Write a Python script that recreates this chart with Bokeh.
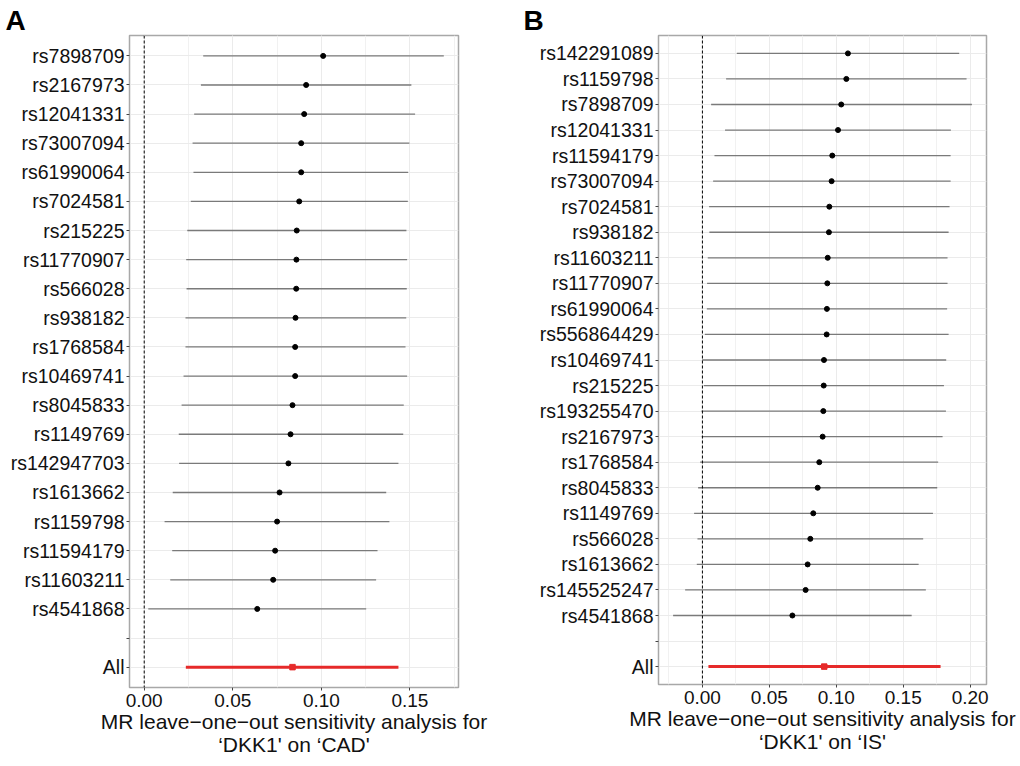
from bokeh.plotting import figure
from bokeh.layouts import row
from bokeh.models import (Range1d, FactorRange, SingleIntervalTicker, Span, Title,
                          NumeralTickFormatter)
from bokeh.embed import file_html
from bokeh.resources import INLINE

# ---------------- Panel A data (top to bottom) ----------------
snps_a = ["rs7898709", "rs2167973", "rs12041331", "rs73007094", "rs61990064",
          "rs7024581", "rs215225", "rs11770907", "rs566028", "rs938182",
          "rs1768584", "rs10469741", "rs8045833", "rs1149769", "rs142947703",
          "rs1613662", "rs1159798", "rs11594179", "rs11603211", "rs4541868"]
beta_a = [0.1010, 0.0914, 0.0903, 0.0886, 0.0886, 0.0875, 0.0861, 0.0859, 0.0858, 0.0854,
          0.0852, 0.0852, 0.0837, 0.0826, 0.0814, 0.0764, 0.0750, 0.0739, 0.0728, 0.0638]
lo_a = [0.0333, 0.0320, 0.0282, 0.0273, 0.0278, 0.0263, 0.0243, 0.0237, 0.0239, 0.0233,
        0.0233, 0.0222, 0.0211, 0.0195, 0.0197, 0.0161, 0.0115, 0.0158, 0.0147, 0.0023]
hi_a = [0.1691, 0.1508, 0.1529, 0.1497, 0.1490, 0.1488, 0.1480, 0.1484, 0.1482, 0.1479,
        0.1475, 0.1484, 0.1465, 0.1462, 0.1435, 0.1366, 0.1384, 0.1317, 0.1309, 0.1253]
all_a = [0.0837, 0.0235, 0.1435]   # beta, lo, hi

# ---------------- Panel B data (top to bottom) ----------------
snps_b = ["rs142291089", "rs1159798", "rs7898709", "rs12041331", "rs11594179",
          "rs73007094", "rs7024581", "rs938182", "rs11603211", "rs11770907",
          "rs61990064", "rs556864429", "rs10469741", "rs215225", "rs193255470",
          "rs2167973", "rs1768584", "rs8045833", "rs1149769", "rs566028",
          "rs1613662", "rs145525247", "rs4541868"]
beta_b = [0.1087, 0.1075, 0.1037, 0.1013, 0.0970, 0.0965, 0.0948, 0.0945, 0.0936, 0.0933,
          0.0930, 0.0928, 0.0908, 0.0906, 0.0903, 0.0898, 0.0873, 0.0861, 0.0828, 0.0806,
          0.0786, 0.0771, 0.0672]
lo_b = [0.0257, 0.0177, 0.0065, 0.0169, 0.0090, 0.0080, 0.0050, 0.0052, 0.0040, 0.0035,
        0.0033, 0.0018, -0.0002, 0.0010, -0.0007, -0.0005, -0.0017, -0.0032, -0.0062, -0.0037,
        -0.0042, -0.0129, -0.0219]
hi_b = [0.1918, 0.1973, 0.2013, 0.1856, 0.1854, 0.1854, 0.1846, 0.1839, 0.1831, 0.1831,
        0.1828, 0.1839, 0.1821, 0.1804, 0.1819, 0.1794, 0.1761, 0.1754, 0.1722, 0.1649,
        0.1615, 0.1669, 0.1563]
all_b = [0.0910, 0.0045, 0.1779]

xlabel_line1 = "MR leave\u2212one\u2212out sensitivity analysis for"
xlabel_a = "\u2018DKK1' on \u2018CAD'"
xlabel_b = "\u2018DKK1' on \u2018IS'"

FONT = "Liberation Sans"
TXT = "#111111"
GREY = "#7a7a7a"
RED = "#E62A2A"


def panel(snps, beta, lo, hi, allv, xr, fw, fh, bl, br, bb, letter, letter_off, l2):
    factors = ["All", ""] + snps[::-1]
    p = figure(width=bl + fw + br, height=35 + fh + bb,
               frame_width=fw, frame_height=fh,
               min_border_left=bl, min_border_right=br, min_border_top=35,
               min_border_bottom=bb,
               x_range=Range1d(*xr),
               y_range=FactorRange(factors=factors, range_padding=0.2,
                                   range_padding_units="absolute"),
               output_backend="svg", toolbar_location=None)
    p.background_fill_color = "white"
    p.border_fill_color = "white"
    p.outline_line_color = "#a8a8a8"
    p.outline_line_width = 1.5

    p.xaxis.ticker = SingleIntervalTicker(interval=0.05, num_minor_ticks=2)
    p.xaxis.formatter = NumeralTickFormatter(format="0.00")
    p.xgrid.grid_line_color = "#ebebeb"
    p.xgrid.minor_grid_line_color = "#f1f1f1"
    p.ygrid.grid_line_color = "#ebebeb"

    for ax in (p.xaxis[0], p.yaxis[0]):
        ax.axis_line_color = None
        ax.major_tick_line_color = "#444444"
        ax.major_tick_out = 3
        ax.major_tick_in = 0
        ax.minor_tick_line_color = None
        ax.major_label_text_font = FONT
        ax.major_label_text_color = TXT
    p.xaxis.major_label_text_font_size = "19px"
    p.xaxis.major_label_standoff = 2
    p.yaxis.major_label_text_font_size = "19.5px"
    p.yaxis.major_label_standoff = 2

    p.xaxis.axis_label = xlabel_line1 + "\n" + l2
    p.xaxis.axis_label_text_font = FONT
    p.xaxis.axis_label_text_font_size = "21px"
    p.xaxis.axis_label_text_font_style = "normal"
    p.xaxis.axis_label_text_color = TXT
    p.xaxis.axis_label_text_line_height = 1.03
    p.xaxis.axis_label_standoff = 0

    p.add_layout(Title(text=letter, align="left", offset=letter_off,
                       text_font=FONT, text_font_size="28px", text_font_style="bold",
                       text_color="black", standoff=0), "above")

    p.add_layout(Span(location=0, dimension="height", line_color="black",
                      line_width=1, line_dash="3 2"))

    p.segment(x0=lo, y0=snps, x1=hi, y1=snps, line_color=GREY, line_width=1.3)
    p.scatter(x=beta, y=snps, size=5, color="black")
    p.segment(x0=[allv[1]], y0=["All"], x1=[allv[2]], y1=["All"],
              line_color=RED, line_width=3)
    p.scatter(x=[allv[0]], y=["All"], size=5.5, color=RED, marker="square")
    return p


pa = panel(snps_a, beta_a, lo_a, hi_a, all_a, (-0.0083, 0.1774), 329, 652, 129, 50, 75,
           "A", -124, xlabel_a)
pb = panel(snps_b, beta_b, lo_b, hi_b, all_b, (-0.0328, 0.2122), 328, 649, 150, 32, 78,
           "B", -135, xlabel_b)

layout = row(pa, pb)
open("out.html", "w").write(file_html(layout, INLINE))
